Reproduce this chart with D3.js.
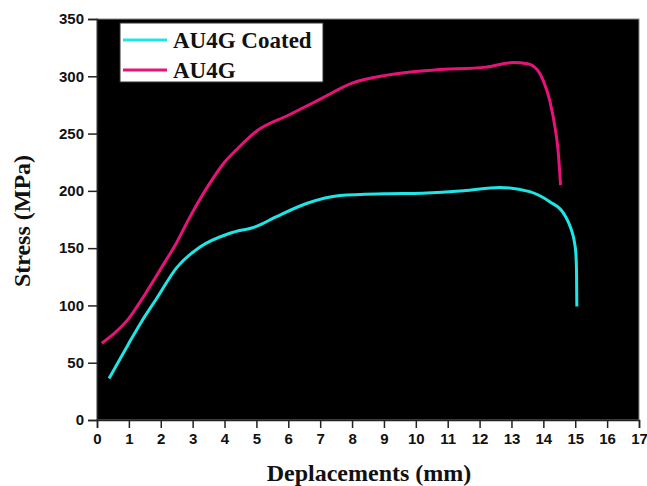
<!DOCTYPE html>
<html>
<head>
<meta charset="utf-8"/>
<script src="https://d3js.org/d3.v7.min.js"></script>
<style>
  body { margin: 0; padding: 0; background: #fff; }
  svg { display: block; }
  .tick text { font-family: "Liberation Sans", Arial, sans-serif; font-weight: bold; font-size: 15px; fill: #111; }
  .title { font-family: "Liberation Serif", "Times New Roman", serif; font-weight: bold; font-size: 24px; fill: #111; }
  .leg { font-family: "Liberation Serif", "Times New Roman", serif; font-weight: bold; font-size: 23px; fill: #111; }
</style>
</head>
<body>
<div id="chart"></div>
<script>
// AU4G (uncoated)
const au4gX = [0.15, 0.56, 0.98, 1.35, 2.0, 2.5, 2.92, 3.5, 4.0, 4.38, 5.0, 6.0, 7.0, 8.0, 9.1, 10.6, 12.2, 13.05, 13.5, 13.8, 14.0, 14.2, 14.38, 14.46, 14.54];
const au4gY = [67, 76, 88, 103, 132, 155, 177.5, 205, 225, 236, 252, 266, 280, 294, 301, 305.5, 308, 312, 311, 306, 296, 279, 253, 236, 205];

// AU4G Coated
const coatedX = [0.38, 0.98, 1.4, 1.87, 2.5, 3.23, 4.17, 5.0, 5.63, 6.57, 7.62, 9.0, 10.2, 11.5, 12.63, 13.57, 14.2, 14.62, 14.78, 14.88, 14.97, 15.02, 15.04, 15.05];
const coatedY = [36.3, 66, 86, 106, 133, 151, 163, 169, 177.5, 189, 196, 197.5, 198, 200, 203, 199.3, 190.5, 181, 173, 165.8, 156, 145, 130, 99];

const xTicks = d3.range(0, 18, 1);
const yTicks = [0, 50, 100, 150, 200, 250, 300, 350];

const W = 647, H = 486;
const margin = {top: 19, right: 8, bottom: 66, left: 97};
const width = W - margin.left - margin.right;
const height = H - margin.top - margin.bottom;

const svg = d3.select("#chart").append("svg")
    .attr("width", W).attr("height", H);

const g = svg.append("g")
    .attr("transform", `translate(${margin.left},${margin.top})`);

const x = d3.scaleLinear().domain([0, 17]).range([0, width]);
const y = d3.scaleLinear().domain([0, 350]).range([height, 0]);

// black plot area with thin grey frame
g.append("rect")
    .attr("width", width).attr("height", height)
    .attr("fill", "#000")
    .attr("stroke", "#888").attr("stroke-width", 1);

// axes
const xAxis = g.append("g")
    .attr("transform", `translate(0,${height})`)
    .call(d3.axisBottom(x).tickValues(xTicks).tickSize(8).tickPadding(5).tickFormat(d3.format("d")));
const yAxis = g.append("g")
    .call(d3.axisLeft(y).tickValues(yTicks).tickSize(9).tickPadding(4).tickFormat(d3.format("d")));
[xAxis, yAxis].forEach(a => {
  a.select(".domain").attr("stroke", "#222").attr("stroke-width", 1.5);
  a.selectAll(".tick line").attr("stroke", "#222").attr("stroke-width", 1.5);
});

// curves
const line = d3.line()
    .x(d => x(d[0])).y(d => y(d[1]))
    .curve(d3.curveMonotoneX);

const series = [
  {name: "AU4G Coated", xs: coatedX, ys: coatedY, color: "#1ee6e6"},
  {name: "AU4G", xs: au4gX, ys: au4gY, color: "#e8137a"}
];

series.forEach(s => {
  g.append("path")
      .datum(s.xs.map((v, i) => [v, s.ys[i]]))
      .attr("fill", "none")
      .attr("stroke", s.color)
      .attr("stroke-width", 3)
      .attr("stroke-linejoin", "round")
      .attr("d", line);
});

// legend
const leg = svg.append("g").attr("transform", "translate(120,23)");
leg.append("rect")
    .attr("width", 203).attr("height", 59)
    .attr("fill", "#fff").attr("stroke", "#333").attr("stroke-width", 1);
series.forEach((s, i) => {
  const ly = 17 + i * 30;
  leg.append("line")
      .attr("x1", 3).attr("x2", 47).attr("y1", ly).attr("y2", ly)
      .attr("stroke", s.color).attr("stroke-width", 3);
  leg.append("text")
      .attr("class", "leg")
      .attr("x", 53).attr("y", ly + 8)
      .text(s.name);
});

// axis titles
svg.append("text")
    .attr("class", "title")
    .attr("text-anchor", "middle")
    .attr("x", 369).attr("y", 481)
    .text("Deplacements (mm)");

svg.append("text")
    .attr("class", "title")
    .attr("text-anchor", "middle")
    .attr("transform", "translate(30,221) rotate(-90)")
    .text("Stress (MPa)");
</script>
</body>
</html>
